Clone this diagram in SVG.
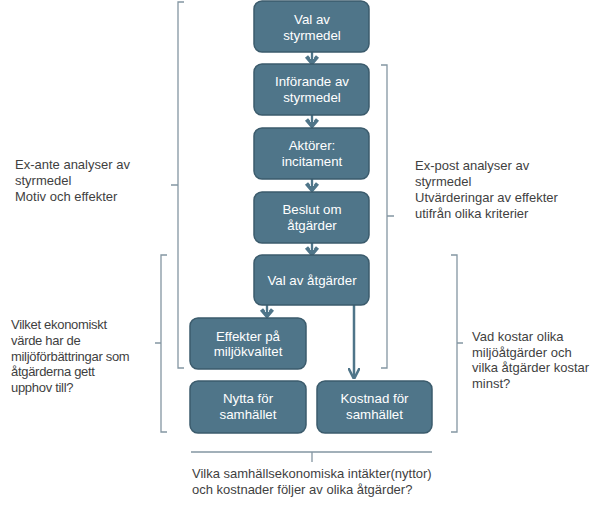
<svg xmlns="http://www.w3.org/2000/svg" width="605" height="507" viewBox="0 0 605 507">
<defs>
<style>
.box{fill:#4f7589;stroke:#3b5b6c;stroke-width:1.5}
.bt{font-family:"Liberation Sans",Arial,sans-serif;font-size:13.3px;fill:#ffffff;text-anchor:middle}
.lt{font-family:"Liberation Sans",Arial,sans-serif;font-size:13px;fill:#3f3f3f}
.br{fill:none;stroke:#8496a2;stroke-width:1.3}
.chev{fill:none;stroke:#4f7589;stroke-width:4}
.chevi{fill:none;stroke:#dfe7ec;stroke-width:1}
.arr{fill:none;stroke:#4f7589;stroke-width:2.5}
</style>
<marker id="ah" viewBox="0 0 10 10" refX="9" refY="5" markerWidth="4.5" markerHeight="4.5" orient="auto" markerUnits="strokeWidth">
<path d="M0,0 L10,5 L0,10" fill="none" stroke="#4f7589" stroke-width="2.2"/>
</marker>
</defs>
<rect width="605" height="507" fill="#ffffff"/>

<g id="connectors">
<g id="c1"><path class="chev" d="M312,52 V62 M306.5,56.5 L312,63 L317.5,56.5"/><path class="chevi" d="M310.5,52 V59 M313.5,52 V59"/></g>
<g id="c2"><path class="chev" d="M312,115 V125 M306.5,119.5 L312,126 L317.5,119.5"/><path class="chevi" d="M310.5,115 V122 M313.5,115 V122"/></g>
<g id="c3"><path class="chev" d="M312,179 V189 M306.5,183.5 L312,190 L317.5,183.5"/><path class="chevi" d="M310.5,179 V186 M313.5,179 V186"/></g>
<g id="c4"><path class="chev" d="M312,243 V253 M306.5,247.5 L312,254 L317.5,247.5"/><path class="chevi" d="M310.5,243 V250 M313.5,243 V250"/></g>
<g id="c5"><path class="chev" d="M267,305 V316 M261.5,309.5 L267,316 L272.5,309.5"/><path class="chevi" d="M265.5,305 V312 M268.5,305 V312"/></g>
<path id="c6" class="arr" d="M354,305 V378" marker-end="url(#ah)"/>
</g>

<g id="brackets">
<path id="b-exante" class="br" d="M184,2 H178 V368 H184 M178,185 H171"/>
<path id="b-expost" class="br" d="M381,65 H387 V368 H381 M387,216 H394"/>
<path id="b-left" class="br" d="M167,255 H161 V432 H167 M161,343 H155"/>
<path id="b-right" class="br" d="M451,255 H457 V432 H451 M457,343 H463"/>
<path id="b-bottom" class="br" d="M191,452 H432 M312,452 V462"/>
</g>

<g id="n1"><rect class="box" x="254" y="1" width="115" height="51" rx="8"/><text class="bt" x="312" y="24">Val av</text><text class="bt" x="312" y="40">styrmedel</text></g>
<g id="n2"><rect class="box" x="254" y="64" width="115" height="51" rx="8"/><text class="bt" x="312" y="86">Införande av</text><text class="bt" x="312" y="102">styrmedel</text></g>
<g id="n3"><rect class="box" x="254" y="128" width="115" height="51" rx="8"/><text class="bt" x="312" y="150">Aktörer:</text><text class="bt" x="312" y="166">incitament</text></g>
<g id="n4"><rect class="box" x="254" y="192" width="115" height="51" rx="8"/><text class="bt" x="312" y="214">Beslut om</text><text class="bt" x="312" y="230">åtgärder</text></g>
<g id="n5"><rect class="box" x="254" y="255" width="115" height="50" rx="8"/><text class="bt" x="312" y="285">Val av åtgärder</text></g>
<g id="n6"><rect class="box" x="190" y="318" width="116" height="51" rx="8"/><text class="bt" x="248" y="341">Effekter på</text><text class="bt" x="248" y="356">miljökvalitet</text></g>
<g id="n7"><rect class="box" x="190" y="381" width="116" height="52" rx="8"/><text class="bt" x="248" y="403">Nytta för</text><text class="bt" x="248" y="419">samhället</text></g>
<g id="n8"><rect class="box" x="317" y="381" width="115" height="52" rx="8"/><text class="bt" x="374.5" y="403">Kostnad för</text><text class="bt" x="374.5" y="419">samhället</text></g>

<g id="labels">
<text class="lt" x="15" y="169">Ex-ante analyser av</text>
<text class="lt" x="15" y="185">styrmedel</text>
<text class="lt" x="15" y="201">Motiv och effekter</text>
<text class="lt" x="415" y="170">Ex-post analyser av</text>
<text class="lt" x="415" y="186">styrmedel</text>
<text class="lt" x="415" y="202">Utvärderingar av effekter</text>
<text class="lt" x="415" y="218">utifrån olika kriterier</text>
<text class="lt" x="11" y="329" letter-spacing="-0.3">Vilket ekonomiskt</text>
<text class="lt" x="11" y="345" letter-spacing="-0.3">värde har de</text>
<text class="lt" x="11" y="361" letter-spacing="-0.3">miljöförbättringar som</text>
<text class="lt" x="11" y="376" letter-spacing="-0.3">åtgärderna gett</text>
<text class="lt" x="11" y="392" letter-spacing="-0.3">upphov till?</text>
<text class="lt" x="472" y="341">Vad kostar olika</text>
<text class="lt" x="472" y="357">miljöåtgärder och</text>
<text class="lt" x="472" y="372">vilka åtgärder kostar</text>
<text class="lt" x="472" y="388">minst?</text>
<text class="lt" x="192" y="478">Vilka samhällsekonomiska intäkter(nyttor)</text>
<text class="lt" x="192" y="494">och kostnader följer av olika åtgärder?</text>
</g>
</svg>
